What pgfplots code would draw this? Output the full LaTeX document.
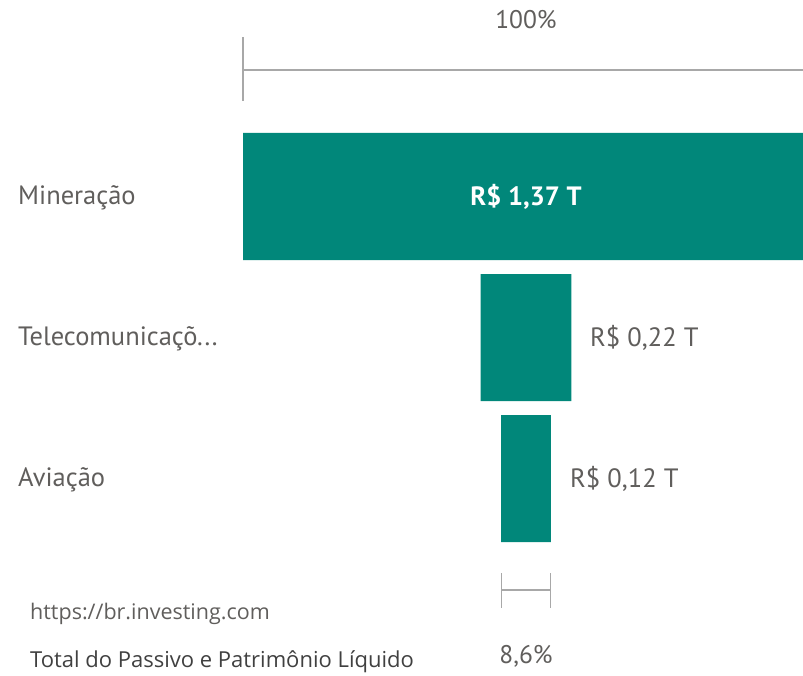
\documentclass[border=0pt]{standalone}
\usepackage{pgfplots}
\pgfplotsset{compat=1.18}
\usepackage{fontspec}
\setmainfont{PT Sans}
\newfontfamily\uifont{Open Sans}
\definecolor{funnel}{HTML}{01877A}
\definecolor{labelgray}{HTML}{605E5C}
\definecolor{linegray}{HTML}{A8A8A8}
\definecolor{textdark}{HTML}{404040}
\tikzset{
    catlabel/.style={anchor=west, inner sep=0pt, text=labelgray, font=\fontsize{26.5bp}{30bp}\selectfont},
    pctlabel/.style={text=labelgray, font=\fontsize{25.5bp}{30bp}\selectfont},
    footlabel/.style={anchor=west, inner sep=0pt, font=\uifont\fontsize{21.5bp}{25bp}\selectfont},
    bracket/.style={draw=linegray, line width=1.4bp},
}

\begin{document}
\begin{tikzpicture}
\begin{axis}[
    scale only axis,
    width=803bp, height=676bp,
    hide axis,
    xmin=-0.5882, xmax=1.3555,
    ymin=-1.3936, ymax=3.4007,
    y dir=reverse,
    xbar stacked,
    bar width=127bp,
]
% invisible offsets centre the funnel stages on the widest one
\addplot[draw=none, fill=none] coordinates {(0,0) (0.575,1) (0.625,2)};
% R$ trillions
\addplot[draw=none, fill=funnel] coordinates {(1.37,0) (0.22,1) (0.12,2)};

% 100% bracket
\draw[bracket] (axis cs:0,-0.8972) -- (axis cs:1.37,-0.8972);
\draw[bracket] (axis cs:0,-1.1312) -- (axis cs:0,-0.6773);
\node[pctlabel] at (axis cs:0.685,-1.2518) {100\%};

% 8,6% bracket
\draw[bracket] (axis cs:0.625,2.7908) -- (axis cs:0.745,2.7908);
\draw[bracket] (axis cs:0.625,2.6702) -- (axis cs:0.625,2.9184);
\draw[bracket] (axis cs:0.745,2.6702) -- (axis cs:0.745,2.9184);
\node[pctlabel] at (axis cs:0.685,3.2589) {8,6\%};

% category labels
\node[catlabel] at (axis cs:-0.5446,0.01) {Mineração};
\node[catlabel] at (axis cs:-0.5446,1.01) {Telecomunicaçõ...};
\node[catlabel] at (axis cs:-0.5446,2.01) {Aviação};

% value labels
\coordinate (v1) at (axis cs:0.685,0);
\node[catlabel] at (axis cs:0.8399,1) {R\$ 0,22 T};
\node[catlabel] at (axis cs:0.7915,2) {R\$ 0,12 T};

% footer
\node[footlabel, text=labelgray] at (axis cs:-0.5156,2.9597) {https://br.investing.com};
\node[footlabel, text=textdark, font=\uifont\fontsize{22bp}{25bp}\selectfont] at (axis cs:-0.5156,3.3012) {Total do Passivo e Patrimônio Líquido};
\end{axis}
\node[text=white, font=\bfseries\fontsize{26.5bp}{30bp}\selectfont] at (v1) {R\$ 1,37 T};
\pgfresetboundingbox
\path[use as bounding box] (current axis.south west) rectangle (current axis.north east);
\end{tikzpicture}
\end{document}
